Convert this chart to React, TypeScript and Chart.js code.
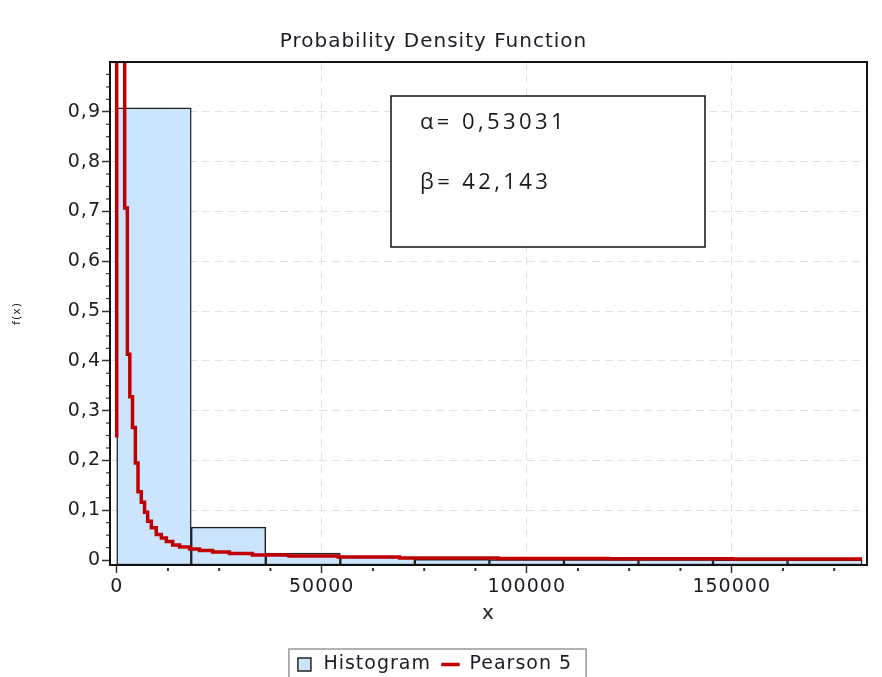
import React, { useEffect, useRef } from 'react';
import { Chart, registerables } from 'chart.js';

Chart.register(...registerables);

// ---- data ----
const BIN_EDGES = [0, 18180, 36360, 54540, 72720, 90900, 109080, 127260, 145440, 163620, 181800];
const HIST_VALUES = [0.908, 0.066, 0.014, 0.006, 0.0015, 0.001, 0.001, 0.0008, 0.0006, 0.0005];

const PDF_X = [0, 1950, 2600, 3200, 3850, 4550, 5200, 6000, 6800, 7550, 8450, 9650, 10900, 12100, 13650, 15350, 17800, 20200, 23400, 27500, 33100, 42000, 54000, 69000, 93000, 120000, 150000, 181800];
const PDF_Y = [0.246, 1.5, 0.707, 0.413, 0.328, 0.266, 0.195, 0.137, 0.116, 0.096, 0.078, 0.065, 0.051, 0.044, 0.037, 0.030, 0.026, 0.022, 0.019, 0.016, 0.013, 0.010, 0.008, 0.006, 0.004, 0.003, 0.0025, 0.002];

const X_TICKS = [0, 50000, 100000, 150000];
const Y_TICKS = [0, 0.1, 0.2, 0.3, 0.4, 0.5, 0.6, 0.7, 0.8, 0.9];
const X_MINOR_STEP = 12500;
const Y_MINOR_STEP = 0.025;

const X_MIN = -1634;
const X_MAX = 183000;
const Y_MIN = -0.01;
const Y_MAX = 1.0;

const TITLE = 'Probability Density Function';
const X_TITLE = 'x';
const Y_TITLE = 'f(x)';
const HIST_LABEL = 'Histogram';
const PDF_LABEL = 'Pearson 5';
const PARAM_LINES = ['α= 0,53031', 'β= 42,143'];

const FONT = '"DejaVu Sans", Verdana, sans-serif';
const TEXT = '#1c1c24';
const SPACING = '1px';

const decorPlugin = {
  id: 'decor',
  beforeUpdate(chart: any) {
    chart.ctx.letterSpacing = SPACING;
  },
  beforeDraw(chart: any) {
    chart.ctx.letterSpacing = SPACING;
  },
  afterDraw(chart: any) {
    const { ctx, chartArea: ca, scales } = chart;
    const x = scales.x;
    const y = scales.y;
    ctx.save();
    // minor ticks on y
    ctx.strokeStyle = '#333';
    ctx.lineWidth = 1.2;
    for (let k = 0; k * Y_MINOR_STEP <= Y_MAX + 1e-9; k++) {
      if (k % 4 === 0) continue;
      const py = y.getPixelForValue(k * Y_MINOR_STEP);
      ctx.beginPath();
      ctx.moveTo(ca.left - 4, py);
      ctx.lineTo(ca.left, py);
      ctx.stroke();
    }
    // minor ticks on x
    ctx.lineWidth = 2;
    for (let k = 1; k * X_MINOR_STEP <= X_MAX; k++) {
      if (k % 4 === 0) continue;
      const px = x.getPixelForValue(k * X_MINOR_STEP);
      ctx.beginPath();
      ctx.moveTo(px, ca.bottom + 3);
      ctx.lineTo(px, ca.bottom + 6);
      ctx.stroke();
    }
    // frame
    ctx.strokeStyle = '#111';
    ctx.lineWidth = 2;
    ctx.strokeRect(ca.left, ca.top, ca.right - ca.left, ca.bottom - ca.top);

    // parameter box
    const w = ca.right - ca.left;
    const h = ca.bottom - ca.top;
    const bx = ca.left + 0.3712 * w;
    const by = ca.top + 0.0676 * h;
    const bw = (0.786 - 0.3712) * w;
    const bh = (0.3678 - 0.0676) * h;
    ctx.fillStyle = '#fff';
    ctx.fillRect(bx, by, bw, bh);
    ctx.strokeStyle = '#111';
    ctx.lineWidth = 1.5;
    ctx.strokeRect(bx, by, bw, bh);
    ctx.letterSpacing = '3.4px';
    ctx.font = '22px "Open Sans", "Noto Sans", sans-serif';
    ctx.fillStyle = '#1a1a1a';
    ctx.textAlign = 'left';
    ctx.textBaseline = 'middle';
    PARAM_LINES.forEach((t, i) => {
      ctx.fillText(t, bx + 29, by + 27 + i * 60);
    });

    // legend border
    const lg = chart.legend;
    if (lg && lg.legendHitBoxes && lg.legendHitBoxes.length) {
      let l = Infinity, r = -Infinity, t = Infinity;
      lg.legendHitBoxes.forEach((hb: any) => {
        l = Math.min(l, hb.left);
        r = Math.max(r, hb.left + hb.width);
        t = Math.min(t, hb.top);
      });
      ctx.strokeStyle = '#999';
      ctx.lineWidth = 1.5;
      ctx.strokeRect(l - 6, t - 6, r - l + 20, 60);
    }
    ctx.restore();
  },
};

export default function App() {
  const ref = useRef<HTMLCanvasElement>(null);
  useEffect(() => {
    const histData = HIST_VALUES.map((v, i) => ({ x: (BIN_EDGES[i] + BIN_EDGES[i + 1]) / 2, y: v }));
    const pdfData = PDF_X.map((xv, i) => ({ x: xv, y: PDF_Y[i] }));
    const chart = new Chart(ref.current as HTMLCanvasElement, {
      type: 'bar',
      data: {
        datasets: [
          {
            type: 'bar',
            label: HIST_LABEL,
            data: histData as any,
            backgroundColor: '#CCE5FF',
            borderColor: '#222',
            borderWidth: 1.5,
            borderSkipped: false,
            barPercentage: 1,
            categoryPercentage: 1,
            base: Y_MIN,
            pointStyle: 'rect',
            order: 1,
          } as any,
          {
            type: 'line',
            label: PDF_LABEL,
            data: pdfData as any,
            borderColor: '#C00000',
            backgroundColor: '#C00000',
            borderWidth: 3.5,
            pointRadius: 0,
            stepped: 'after',
            tension: 0,
            fill: false,
            pointStyle: 'line',
            order: 0,
          } as any,
        ],
      },
      options: {
        responsive: false,
        animation: false,
        devicePixelRatio: 1,
        events: [],
        layout: { padding: { left: 0, right: 15, top: 0, bottom: 6 } },
        scales: {
          x: {
            type: 'linear',
            min: X_MIN,
            max: X_MAX,
            offset: false,
            afterBuildTicks: (s: any) => {
              s.ticks = X_TICKS.map((v) => ({ value: v }));
            },
            afterFit: (s: any) => {
              s.height = 80;
            },
            ticks: {
              color: TEXT,
              font: { family: FONT, size: 19 },
              padding: 3,
              maxRotation: 0,
              autoSkip: false,
              callback: (v: any) => String(v),
            },
            grid: {
              offset: false,
              color: (c: any) => (c.tick && c.tick.value === 0 ? 'rgba(0,0,0,0)' : '#e2e2e2'),
              lineWidth: 1,
              tickLength: 8,
              tickColor: '#333',
              tickWidth: 1.5,
            },
            border: { display: true, color: '#111', width: 2, dash: [8, 5] },
            title: {
              display: true,
              text: X_TITLE,
              color: TEXT,
              font: { family: FONT, size: 20 },
              padding: { top: 2, bottom: 19 },
            },
          },
          y: {
            type: 'linear',
            min: Y_MIN,
            max: Y_MAX,
            afterBuildTicks: (s: any) => {
              s.ticks = Y_TICKS.map((v) => ({ value: v }));
            },
            afterFit: (s: any) => {
              s.width = 110;
            },
            ticks: {
              color: TEXT,
              font: { family: FONT, size: 19 },
              padding: 1,
              autoSkip: false,
              callback: (v: any) => (Number(v) === 0 ? '0' : Number(v).toFixed(1).replace('.', ',')),
            },
            grid: {
              color: (c: any) => (c.tick && c.tick.value === 0 ? 'rgba(0,0,0,0)' : '#e2e2e2'),
              lineWidth: 1,
              tickLength: 8,
              tickColor: '#333',
              tickWidth: 1.5,
            },
            border: { display: true, color: '#111', width: 2, dash: [8, 5] },
            title: {
              display: true,
              text: Y_TITLE,
              color: '#223',
              font: { family: FONT, size: 11 },
              padding: { top: 11, bottom: 0 },
            },
          },
        },
        plugins: {
          title: {
            display: true,
            text: TITLE,
            color: TEXT,
            font: { family: FONT, size: 20, weight: 'normal' },
            padding: { top: 30, bottom: 8 },
          },
          legend: {
            display: true,
            position: 'bottom',
            labels: {
              usePointStyle: true,
              boxWidth: 19,
              boxHeight: 13,
              padding: 10,
              color: TEXT,
              font: { family: FONT, size: 19 },
              sort: (a: any, b: any) => a.datasetIndex - b.datasetIndex,
            },
          },
          tooltip: { enabled: false },
        },
      } as any,
      plugins: [decorPlugin],
    });
    return () => chart.destroy();
  }, []);
  return (
    <div style={{ position: 'fixed', left: 0, top: 0, width: 882, height: 690, background: '#fff' }}>
      <canvas ref={ref} width={882} height={690} style={{ display: 'block', width: 882, height: 690 }} />
    </div>
  );
}
